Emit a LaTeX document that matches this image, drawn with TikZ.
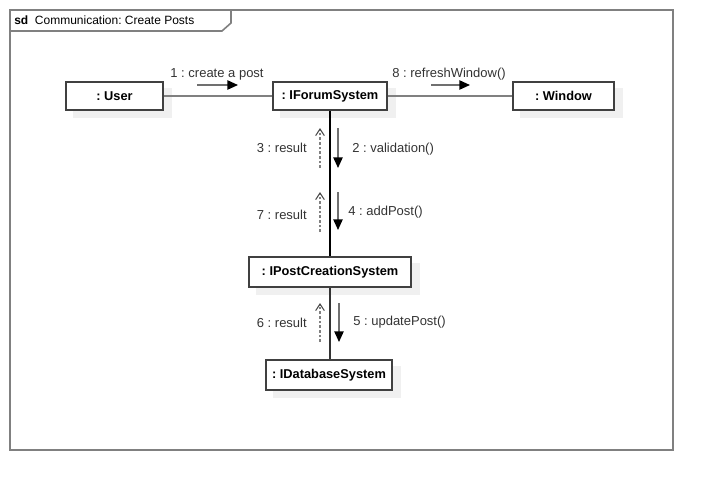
\documentclass[tikz,border=0pt]{standalone}
\usepackage{fontspec}
\setmainfont{Liberation Sans}
\frenchspacing
\usetikzlibrary{arrows.meta,backgrounds}
\definecolor{framegray}{HTML}{808080}
\definecolor{boxborder}{HTML}{404040}
\definecolor{shadowgray}{HTML}{F0F0F0}
\definecolor{txtgray}{HTML}{333333}
\definecolor{msggray}{HTML}{707070}
\tikzset{
  obj/.style={draw=boxborder, line width=1.1pt, fill=white, minimum height=21pt, inner sep=0pt, font=\fontsize{9.6}{11}\selectfont\bfseries, text=black},
  link/.style={draw=framegray, line width=1.1pt},
  strong/.style={draw=black, line width=1.5pt},
  lbl/.style={font=\fontsize{9.75}{12}\selectfont, text=txtgray, inner sep=0pt},
  msg/.style={draw=msggray, line width=1.1pt, -{Triangle[black,length=8pt,width=7pt]}},
  ret/.style={draw=framegray, line width=1.3pt, dash pattern=on 2pt off 1.5pt, -{Straight Barb[black!70,length=5pt,width=6.5pt,line width=0.8pt]}},
}
\begin{document}
\begin{tikzpicture}[x=0.75pt,y=-0.75pt]
\useasboundingbox (0,0) rectangle (714,490);
% frame
\draw[framegray, line width=1.2pt] (10,10) rectangle (673,450);
\draw[framegray, line width=1.2pt] (10,31) -- (222,31) -- (231,23) -- (231,10);
\node[anchor=west, inner sep=0pt, font=\fontsize{9}{11}\selectfont, text=black] (title) at (14,20) {\textbf{sd}\ \ Communication: Create Posts};

% objects
\node[obj, minimum width=72.75pt] (user) at (114.5,96) {: User};
\node[obj, minimum width=85.5pt] (forum) at (330,96) {: IForumSystem};
\node[obj, minimum width=75.75pt] (window) at (563.5,96) {: Window};
\node[obj, minimum width=121.5pt, minimum height=22.5pt] (post) at (330,272) {: IPostCreationSystem};
\node[obj, minimum width=94.5pt, minimum height=22.5pt] (db) at (329,375) {: IDatabaseSystem};

% shadows
\begin{scope}[on background layer]
\foreach \n in {user,forum,window,post,db}{
  \fill[shadowgray] ([shift={(8,7)}]\n.south west) rectangle ([shift={(8,7)}]\n.north east);
}
% links
\draw[link] (user) -- (forum);
\draw[link] (forum) -- (window);
\draw[strong] (forum.south) -- (post.north);
\draw[draw=txtgray, line width=1.5pt] (post.south -| db.north) ++(1,0) coordinate (ps) -- (db.north -| ps);
\end{scope}

% messages
\coordinate (m1s) at (197,85); \coordinate (m1e) at (238,85);
\draw[msg] (m1s) -- (m1e);
\node[lbl] (l1) at (217,74) {1 : create a post};

\coordinate (m8s) at (431,85); \coordinate (m8e) at (470,85);
\draw[msg] (m8s) -- (m8e);
\node[lbl] (l8) at (449,74) {8 : refreshWindow()};

\coordinate (m2s) at (338,128); \coordinate (m2e) at (338,168);
\draw[msg] (m2s) -- (m2e);
\node[lbl, anchor=west] (l2) at (352,149) {2 : validation()};
\coordinate (m3s) at (320,168); \coordinate (m3e) at (320,128);
\draw[ret] (m3s) -- (m3e);
\node[lbl, anchor=east] (l3) at (307,148) {3 : result};

\coordinate (m4s) at (338,192); \coordinate (m4e) at (338,230);
\draw[msg] (m4s) -- (m4e);
\node[lbl, anchor=west] (l4) at (348,212) {4 : addPost()};
\coordinate (m7s) at (320,232); \coordinate (m7e) at (320,192);
\draw[ret] (m7s) -- (m7e);
\node[lbl, anchor=east] (l7) at (307,215) {7 : result};

\coordinate (m5s) at (339,303); \coordinate (m5e) at (339,342);
\draw[msg] (m5s) -- (m5e);
\node[lbl, anchor=west] (l5) at (353,322) {5 : updatePost()};
\coordinate (m6s) at (320,342); \coordinate (m6e) at (320,303);
\draw[ret] (m6s) -- (m6e);
\node[lbl, anchor=east] (l6) at (307,323) {6 : result};
\end{tikzpicture}
\end{document}
